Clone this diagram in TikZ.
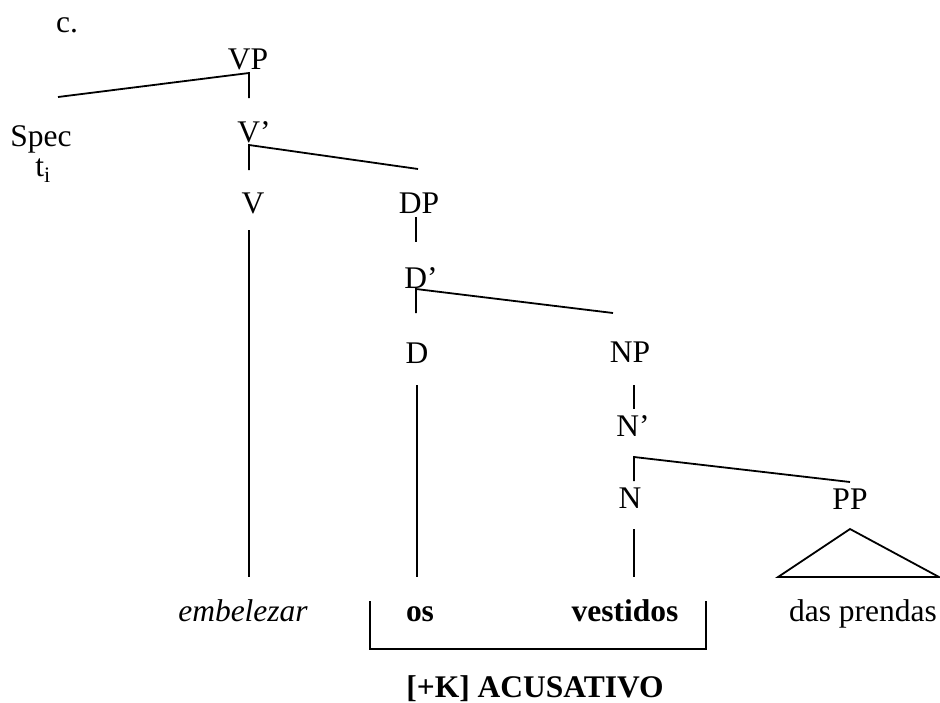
\documentclass[tikz,border=0pt]{standalone}
\usepackage{fontspec}
\setmainfont{Liberation Serif}
\usepackage{tikz}

\begin{document}
\begin{tikzpicture}[x=1pt,y=-1pt,line width=1.8pt,
  every node/.style={font=\fontsize{31.5}{37}\selectfont, inner sep=0pt, anchor=base}]
\useasboundingbox (0,0) rectangle (940,702);
\node (ex) at (67,32) {c.};
\node (VP) at (248,69) {VP};
\node (Spec) at (41,146) {Spec};
\node (t) at (43,176) {t\textsubscript{i}};
\node (Vbar) at (254,142) {V’};
\node (V) at (253,213) {V};
\node (DP) at (419,213) {DP};
\node (Dbar) at (421,288) {D’};
\node (D) at (417,363) {D};
\node (NP) at (630,362) {NP};
\node (Nbar) at (633,436) {N’};
\node (N) at (630,508) {N};
\node (PP) at (850,509) {PP};
\node (verb) at (243,621) {\itshape embelezar};
\node (det) at (420,621) {\bfseries os};
\node (noun) at (625,621) {\bfseries vestidos};
\node (pp) at (863,621) {das prendas};
\node (case) at (535,697) {\bfseries [+K] ACUSATIVO};
\coordinate (VP-j) at (249,73);
\coordinate (Spec-t) at (58,97);
\coordinate (Vbar-t) at (249,98);
\coordinate (Vbar-j) at (249,145);
\coordinate (DP-t) at (418,169);
\coordinate (V-t) at (249,170);
\coordinate (V-b) at (249,230);
\coordinate (verb-t) at (249,577);
\coordinate (DP-b) at (416,217);
\coordinate (Dbar-t) at (416,242);
\coordinate (Dbar-j) at (416,289);
\coordinate (NP-t) at (613,313);
\coordinate (D-t) at (416,313);
\coordinate (D-b) at (417,385);
\coordinate (det-t) at (417,577);
\coordinate (NP-b) at (634,385);
\coordinate (Nbar-t) at (634,409);
\coordinate (Nbar-j) at (634,457);
\coordinate (PP-t) at (850,482);
\coordinate (N-t) at (634,481);
\coordinate (N-b) at (634,529);
\coordinate (noun-t) at (634,577);
\coordinate (PP-b) at (850,529);
\coordinate (pp-l) at (778,577);
\coordinate (pp-r) at (939,577);
\coordinate (br-a) at (370,601);
\coordinate (br-b) at (370,649);
\coordinate (br-c) at (706,649);
\coordinate (br-d) at (706,601);
\draw (Spec-t) -- (VP-j) -- (Vbar-t);
\draw (DP-t) -- (Vbar-j) -- (V-t);
\draw (V-b) -- (verb-t);
\draw (DP-b) -- (Dbar-t);
\draw (NP-t) -- (Dbar-j) -- (D-t);
\draw (D-b) -- (det-t);
\draw (NP-b) -- (Nbar-t);
\draw (PP-t) -- (Nbar-j) -- (N-t);
\draw (N-b) -- (noun-t);
\draw (pp-l) -- (PP-b) -- (pp-r) -- cycle;
\draw (br-a) -- (br-b) -- (br-c) -- (br-d);
\end{tikzpicture}
\end{document}
